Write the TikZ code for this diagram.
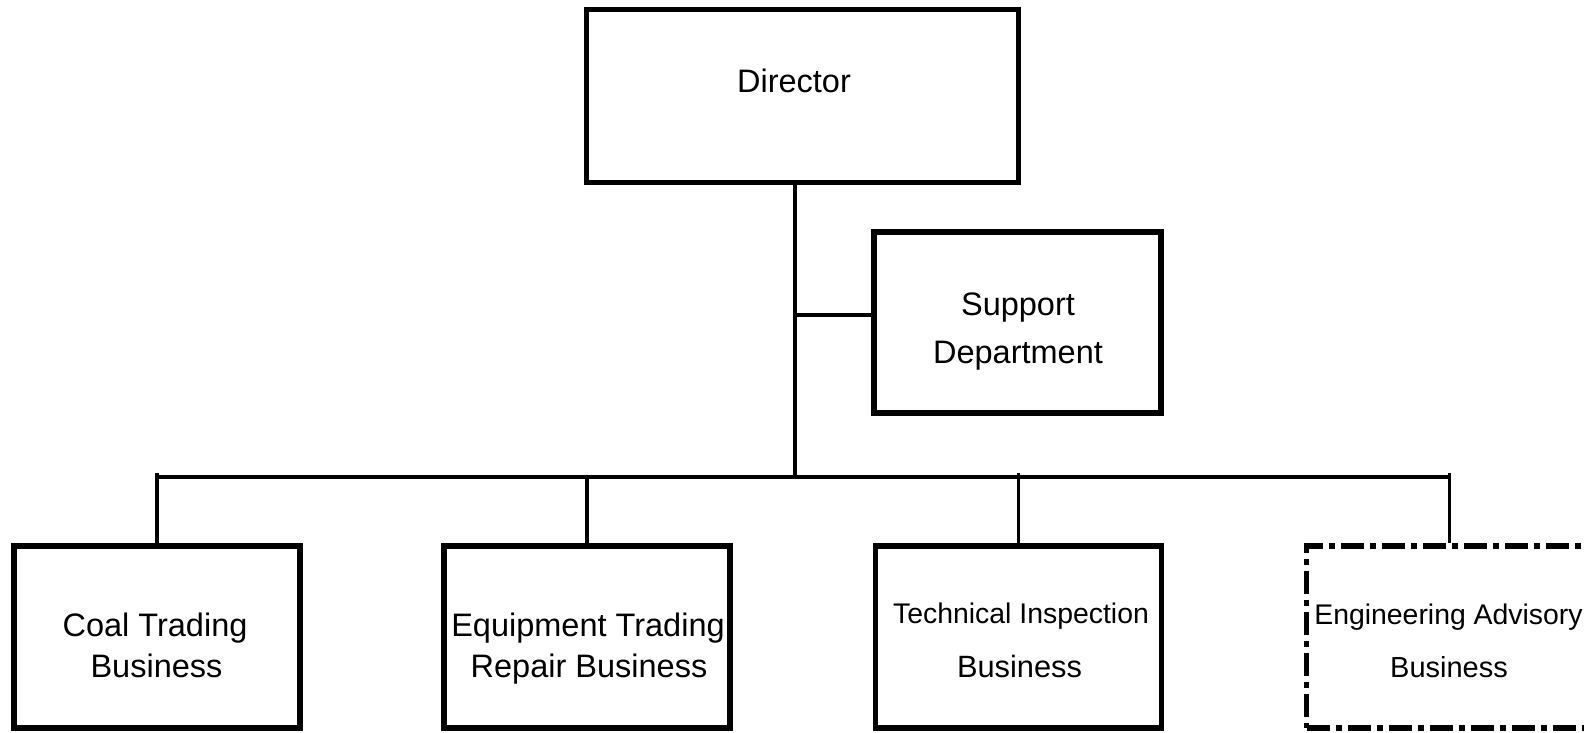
\documentclass[tikz,border=0pt]{standalone}
\usepackage{fontspec}
\setmainfont{Liberation Sans}
\usetikzlibrary{positioning}
\definecolor{ink}{HTML}{000000}

\tikzset{
  orgbox/.style={draw=ink, line width=2.8pt, minimum width=143pt,
    minimum height=91pt, inner sep=0pt},
  wire/.style={draw=ink, line width=1.6pt},
  lbl/.style={anchor=base, inner sep=0pt, text=ink,
    font=\fontsize{16.25}{20}\selectfont},
  lblsmall/.style={lbl, font=\fontsize{14.2}{18}\selectfont}
}

\begin{document}
\begin{tikzpicture}[x=0.5pt, y=-0.5pt]
  \useasboundingbox (0,0) rectangle (1584,733);
  % Director and support
  \node[orgbox, line width=2.5pt, minimum width=216pt, minimum height=86pt] (dir) at (802,96) {};
  \node[lbl] (dirtxt) at (794,93) {Director};
  \node[orgbox, line width=3pt, minimum width=143.5pt, minimum height=90.5pt] (sup) at (1017.5,322.5) {};
  \node[lbl] (suptxta) at (1018,315) {Support};
  \node[lbl] (suptxtb) at (1018,363) {Department};
  % Business units
  \node[orgbox] (coal) at (157,637) {};
  \node[lbl] (coaltxta) at (155,636) {Coal Trading};
  \node[lbl] (coaltxtb) at (156.5,677) {Business};
  \node[orgbox] (equip) at (587,637) {};
  \node[lbl] (equiptxta) at (588,636) {Equipment Trading};
  \node[lbl] (equiptxtb) at (589,677) {Repair Business};
  \node[orgbox] (tech) at (1018.5,637) {};
  \node[lblsmall] (techtxta) at (1021,623) {Technical Inspection};
  \node[lbl, font=\fontsize{15.4}{18}\selectfont] (techtxtb) at (1019.5,677) {Business};
  \node[orgbox, dash pattern=on 11.5pt off 3pt on 3pt off 3pt] (eng) at (1449.5,637) {};
  \node[lblsmall] (engtxta) at (1448.5,624) {Engineering Advisory};
  \node[lbl, font=\fontsize{14.5}{18}\selectfont] (engtxtb) at (1449,677) {Business};
  % Connectors
  \coordinate (bus) at (795,477);
  \coordinate (bustick) at (795,473);
  \coordinate (branch) at (795,315);
  \draw[wire] (dir.south -| bus) -- (bus);
  \draw[wire] (branch) -- (branch -| sup.west);
  \draw[wire] (coal.north |- bus) -- (eng.north |- bus);
  \foreach \b in {coal,tech,eng}
    \draw[wire] (\b.north) -- (\b.north |- bustick);
  \draw[wire] (equip.north) -- (equip.north |- bus);
\end{tikzpicture}
\end{document}
